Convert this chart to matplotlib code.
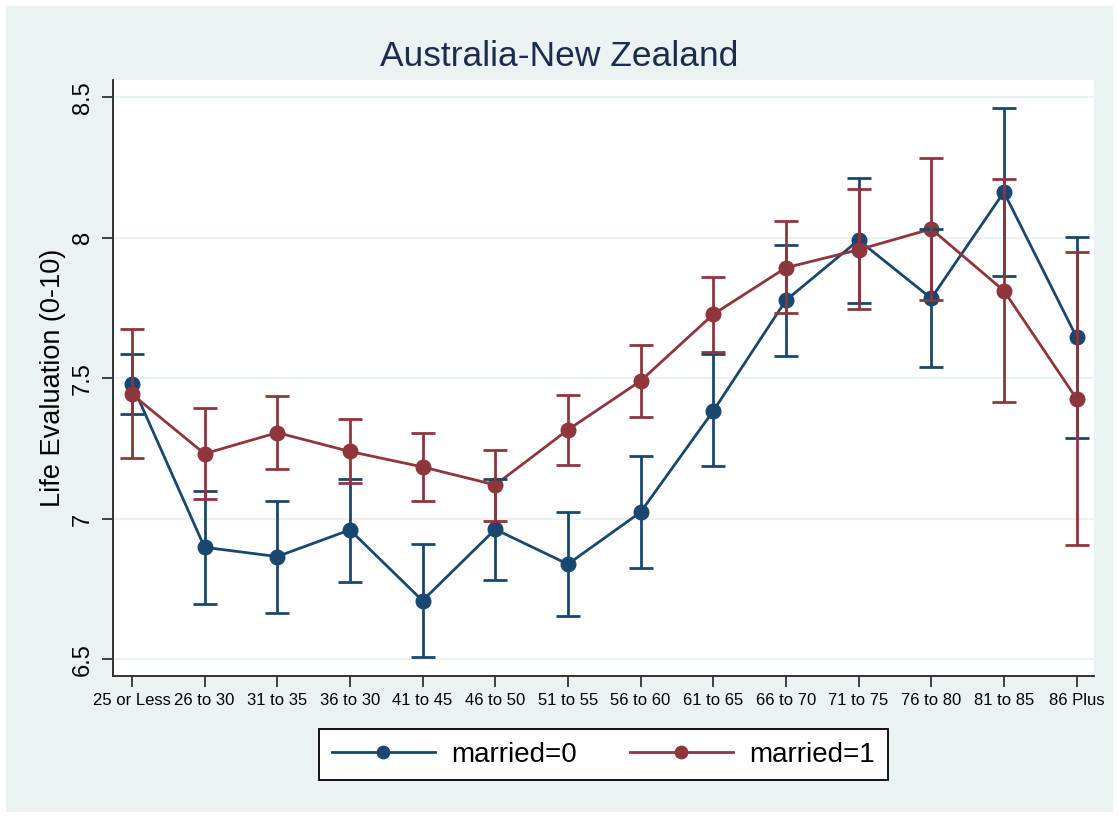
import numpy as np
import matplotlib
matplotlib.use("Agg")
import matplotlib.pyplot as plt
from matplotlib.patches import Rectangle

plt.rcParams["font.family"] = ["Liberation Sans", "DejaVu Sans"]

# age groups on the x axis
age_groups = ["25 or Less", "26 to 30", "31 to 35", "36 to 30", "41 to 45",
              "46 to 50", "51 to 55", "56 to 60", "61 to 65", "66 to 70",
              "71 to 75", "76 to 80", "81 to 85", "86 Plus"]

# predicted life evaluation with 95% CI, not married
married0_mean = [7.480, 6.899, 6.866, 6.961, 6.709, 6.963, 6.839,
                 7.024, 7.384, 7.778, 7.992, 7.785, 8.163, 7.647]
married0_lo = [7.372, 6.698, 6.664, 6.775, 6.508, 6.783, 6.656,
               6.827, 7.190, 7.581, 7.768, 7.540, 7.864, 7.289]
married0_hi = [7.587, 7.100, 7.065, 7.143, 6.912, 7.143, 7.025,
               7.223, 7.586, 7.976, 8.212, 8.030, 8.462, 8.004]

# married
married1_mean = [7.444, 7.232, 7.307, 7.240, 7.185, 7.121, 7.317,
                 7.491, 7.728, 7.894, 7.958, 8.032, 7.812, 7.428]
married1_lo = [7.216, 7.071, 7.179, 7.129, 7.063, 6.994, 7.193,
               7.364, 7.595, 7.732, 7.748, 7.779, 7.417, 6.907]
married1_hi = [7.675, 7.394, 7.438, 7.357, 7.306, 7.244, 7.441,
               7.619, 7.862, 8.059, 8.174, 8.285, 8.208, 7.951]

y_ticks = [6.5, 7, 7.5, 8, 8.5]

navy = "#1a476f"
maroon = "#90353b"
bg = "#eaf2f3"

W, H = 1119, 817
fig = plt.figure(figsize=(W / 100, H / 100), dpi=100, facecolor="white")
fig.patches.append(Rectangle((6 / W, 5 / H), 1 - 12 / W, 1 - 11 / H,
                             transform=fig.transFigure, facecolor=bg,
                             edgecolor="none", zorder=-10))

ax = fig.add_axes([113 / W, 1 - 676 / H, (1094 - 113) / W, (676 - 80) / H])
ax.set_facecolor("white")

x = np.arange(len(age_groups))

series = [
    (married0_mean, married0_lo, married0_hi, navy, "married=0"),
    (married1_mean, married1_lo, married1_hi, maroon, "married=1"),
]
handles = []
for mean, lo, hi, col, lab in series:
    h, = ax.plot(x, mean, color=col, lw=2.0, marker="o", ms=10.5,
                 mec=col, mfc=col, label=lab, zorder=3)
    handles.append(h)
for mean, lo, hi, col, lab in series:
    mean = np.array(mean)
    yerr = [mean - np.array(lo), np.array(hi) - mean]
    ax.errorbar(x, mean, yerr=yerr, fmt="none", ecolor=col, elinewidth=2.0,
                capsize=8.5, capthick=2.0, zorder=4)

ax.set_xlim(-0.26, len(age_groups) - 1 + 0.24)
ax.set_ylim(6.441, 8.562)

ax.set_xticks(x)
ax.set_xticklabels(age_groups, fontsize=12)
ax.set_yticks(y_ticks)
ax.set_yticklabels(["6.5", "7", "7.5", "8", "8.5"], fontsize=17,
                   rotation=90, va="center")
ax.tick_params(axis="x", length=8, width=1.3, pad=4, color="#333333")
ax.tick_params(axis="y", length=8, width=1.3, pad=6, color="#333333")

ax.grid(axis="y", color=bg, lw=1.6, zorder=0)
ax.set_axisbelow(True)
for s in ["top", "right"]:
    ax.spines[s].set_visible(False)
for s in ["left", "bottom"]:
    ax.spines[s].set_linewidth(1.4)
    ax.spines[s].set_color("#333333")

ax.set_ylabel("Life Evaluation (0-10)", fontsize=19.5, labelpad=4)
fig.text(0.5, 1 - 56 / H, "Australia-New Zealand", fontsize=25.5,
         color="#1c2c4c", ha="center", va="center")

leg = fig.legend(handles=handles, loc="upper center",
                 bbox_to_anchor=(603.5 / W, 1 - 729 / H),
                 bbox_transform=fig.transFigure, ncol=2, fontsize=20,
                 frameon=True, fancybox=False, handlelength=3.7,
                 handletextpad=0.6, columnspacing=1.9, borderpad=0.45,
                 borderaxespad=0, markerscale=0.85)
frame = leg.get_frame()
frame.set_edgecolor("black")
frame.set_linewidth(1.3)
frame.set_facecolor("white")
frame.set_alpha(1)

fig.savefig("out.png", dpi=100, facecolor=fig.get_facecolor())
